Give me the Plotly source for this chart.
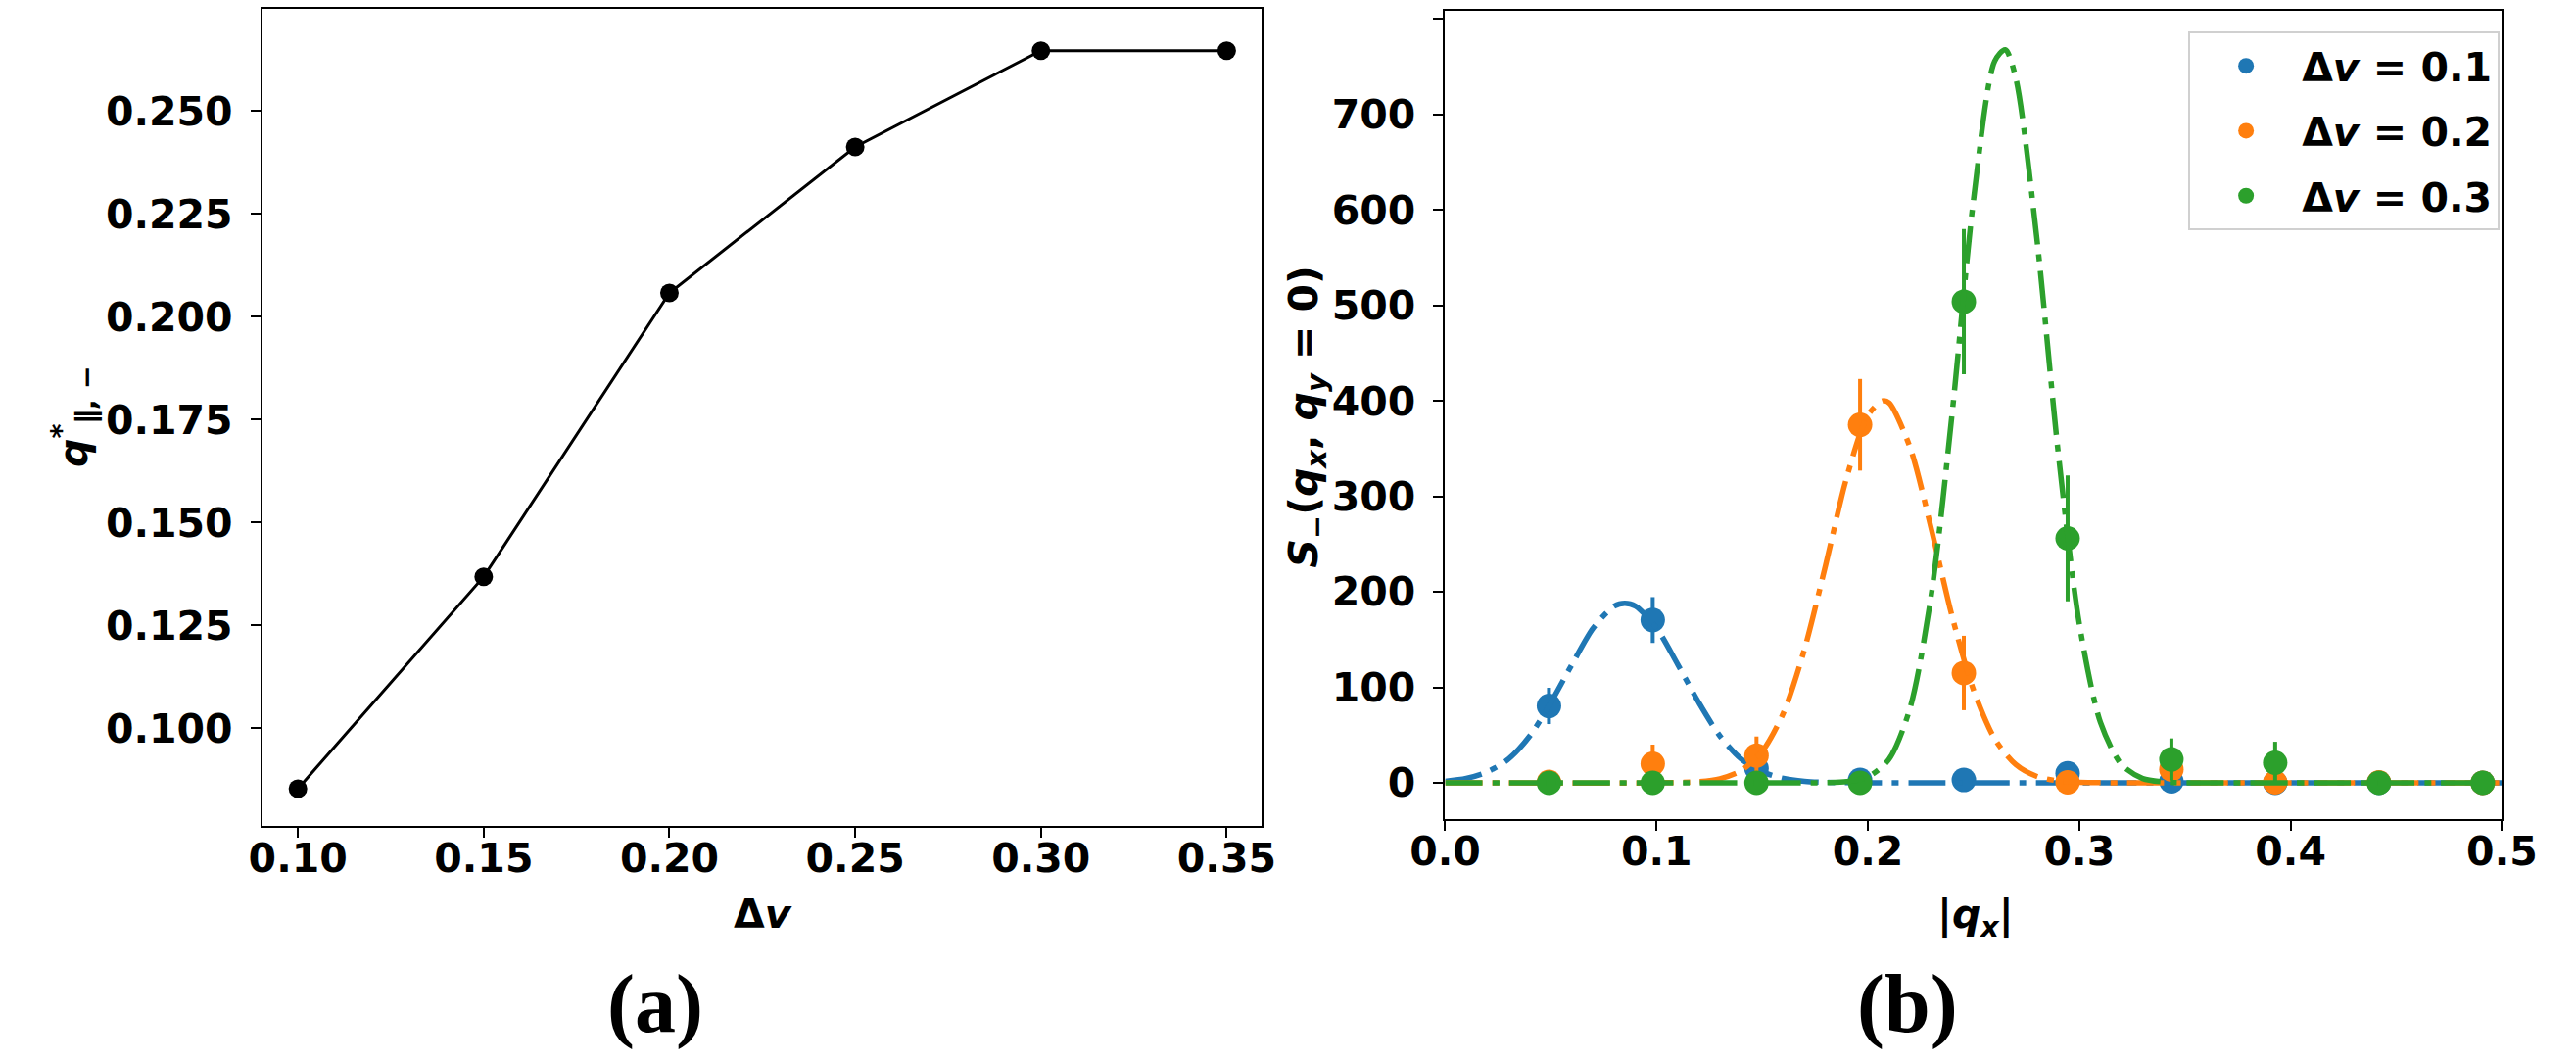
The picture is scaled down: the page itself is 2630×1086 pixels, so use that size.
import plotly.graph_objects as go

# ---------------- Panel (a) data ----------------
dv = [0.10, 0.15, 0.20, 0.25, 0.30, 0.35]
q_star = [0.0853, 0.1368, 0.2058, 0.2413, 0.2647, 0.2647]
q_star_err = [0.0, 0.0015, 0.0, 0.0, 0.0, 0.0]

# ---------------- Panel (b) data ----------------
qx = [0.0491, 0.0982, 0.1473, 0.1963, 0.2454, 0.2945, 0.3436, 0.3927, 0.4418, 0.4909]
s_01 = [80.5, 170.5, 15, 3, 3, 10, 1.5, 0, 0, 0]
s_01_err = [19, 24, 6, 0, 0, 0, 0, 0, 0, 0]
s_02 = [1, 20, 28.5, 375, 115, 0.5, 14, 0.5, 0.5, 0]
s_02_err = [0, 20, 20, 48, 39, 0, 5, 0, 0, 0]
s_03 = [0, 0, 0, 0, 504, 256, 24.5, 21, 0, 0]
s_03_err = [0, 0, 0, 0, 76, 66, 22, 22, 0, 0]

# fitted curves
fit01_x = [0.00, 0.01, 0.02, 0.03, 0.04, 0.05, 0.06, 0.07, 0.08, 0.085, 0.09, 0.10, 0.11,
           0.12, 0.13, 0.14, 0.15, 0.16, 0.17, 0.18, 0.20, 0.30, 0.40, 0.50]
fit01_y = [1.6, 4.6, 11.5, 25, 49, 84, 124, 162, 185, 188, 185, 162, 124,
           84, 49, 25, 11.5, 4.6, 1.6, 0.5, 0, 0, 0, 0]
fit02_x = [0.00, 0.10, 0.12, 0.13, 0.14, 0.15, 0.16, 0.17, 0.18, 0.19, 0.20, 0.207, 0.21,
           0.22, 0.23, 0.24, 0.25, 0.26, 0.27, 0.28, 0.29, 0.30, 0.32, 0.40, 0.50]
fit02_y = [0, 0, 1.2, 4.2, 12.7, 33, 73, 140, 228, 320, 385, 400, 398,
           351, 266, 173, 97, 46, 19, 6.6, 2, 0.5, 0, 0, 0]
fit03_x = [0.00, 0.10, 0.18, 0.19, 0.20, 0.21, 0.22, 0.23, 0.24, 0.25, 0.26, 0.265, 0.27,
           0.28, 0.29, 0.30, 0.31, 0.32, 0.33, 0.34, 0.35, 0.40, 0.50]
fit03_y = [0, 0, 0.2, 1.2, 6.1, 24.7, 78.7, 197, 390, 611, 756, 768, 738,
           569, 347, 167, 63.5, 19, 4.5, 0.9, 0, 0, 0]

labels = ["<b>Δ<i>v</i> = 0.1</b>", "<b>Δ<i>v</i> = 0.2</b>", "<b>Δ<i>v</i> = 0.3</b>"]
colors = ["#1f77b4", "#ff7f0e", "#2ca02c"]

W, H = 2630, 1086
TICKFONT = dict(family="DejaVu Sans", size=41, color="black", weight="bold")
DASHDOT = "38px,10px,7px,10px"

fig = go.Figure()

# panel (a)
fig.add_trace(go.Scatter(
    x=dv, y=q_star, mode="lines+markers",
    line=dict(color="black", width=3),
    marker=dict(color="black", size=19),
    error_y=dict(type="data", array=q_star_err, color="black", thickness=3, width=0),
    showlegend=False, xaxis="x", yaxis="y"))

# panel (b)
series = [(s_01, s_01_err, fit01_x, fit01_y),
          (s_02, s_02_err, fit02_x, fit02_y),
          (s_03, s_03_err, fit03_x, fit03_y)]
for i, (s, e, fx, fy) in enumerate(series):
    fig.add_trace(go.Scatter(
        x=qx, y=s, mode="markers", name=labels[i],
        marker=dict(color=colors[i], size=25),
        error_y=dict(type="data", array=e, color=colors[i], thickness=4, width=0),
        legendgroup=f"g{i}", showlegend=True, xaxis="x2", yaxis="y2"))
    fig.add_trace(go.Scatter(
        x=fx, y=fy, mode="lines", line=dict(color=colors[i], width=5.5, dash=DASHDOT,
                                           shape="spline", smoothing=0.8),
        showlegend=False, hoverinfo="skip", xaxis="x2", yaxis="y2"))

axis_common = dict(showline=True, linecolor="black", linewidth=2, mirror=True,
                   ticks="outside", ticklen=10, tickwidth=2, tickcolor="black",
                   showgrid=False, zeroline=False, tickfont=TICKFONT)
xstand = dict(ticklabelstandoff=-14)
ystand = dict(ticklabelstandoff=10)

fig.update_layout(
    width=W, height=H,
    margin=dict(l=0, r=0, t=0, b=0),
    paper_bgcolor="white", plot_bgcolor="white",
    xaxis=dict(domain=[238.3 / W, 1287.3 / W], range=[0.0904, 0.3594],
               tickvals=[0.10, 0.15, 0.20, 0.25, 0.30, 0.35], tickformat=".2f",
               anchor="y", **axis_common, **xstand),
    yaxis=dict(domain=[(H - 842.7) / H, (H - 9.3) / H], range=[0.0763, 0.2748],
               tickvals=[0.100, 0.125, 0.150, 0.175, 0.200, 0.225, 0.250], tickformat=".3f",
               anchor="x", **axis_common, **ystand),
    xaxis2=dict(domain=[1480 / W, 2589.3 / W], range=[0.0, 0.5],
                tickvals=[0.0, 0.1, 0.2, 0.3, 0.4, 0.5], tickformat=".1f",
                anchor="y2", **axis_common, **xstand),
    yaxis2=dict(domain=[(H - 836) / H, (H - 10.7) / H], range=[-38, 809],
                tickvals=[0, 100, 200, 300, 400, 500, 600, 700, 800],
                anchor="x2", **axis_common, **ystand),
    legend=dict(x=2260 / W, y=1 - 32 / H, xanchor="left", yanchor="top",
                bgcolor="white", bordercolor="#d0d0d0", borderwidth=2,
                font=dict(family="DejaVu Sans", size=41, color="black"),
                itemwidth=104, tracegroupgap=10),
)

LABELFONT = dict(family="DejaVu Sans", size=41, color="black")
SERIF = dict(family="Liberation Serif", size=84, color="black", weight="bold")
annots = [
    dict(x=40 / W, y=1 - 425 / H, text="<b><i>q</i><sup>*</sup><sub>∥, −</sub></b>",
         textangle=-90, font=LABELFONT),
    dict(x=764 / W, y=1 - 933 / H, text="<b>Δ<i>v</i></b>", font=LABELFONT),
    dict(x=1335 / W, y=1 - 425 / H,
         text="<b><i>S</i><sub>−</sub>(<i>q</i><sub><i>x</i></sub>, <i>q</i><sub><i>y</i></sub> = 0)</b>",
         textangle=-90, font=LABELFONT),
    dict(x=2037 / W, y=1 - 936 / H, text="<b>|<i>q</i><sub><i>x</i></sub>|</b>", font=LABELFONT),
    dict(x=651 / W, y=1 - 1025 / H, text="(a)", font=SERIF),
    dict(x=1965 / W, y=1 - 1025 / H, text="(b)", font=SERIF),
]
for a in annots:
    fig.add_annotation(xref="paper", yref="paper", showarrow=False,
                       xanchor="center", yanchor="middle", **a)

fig.write_html("out.html")
